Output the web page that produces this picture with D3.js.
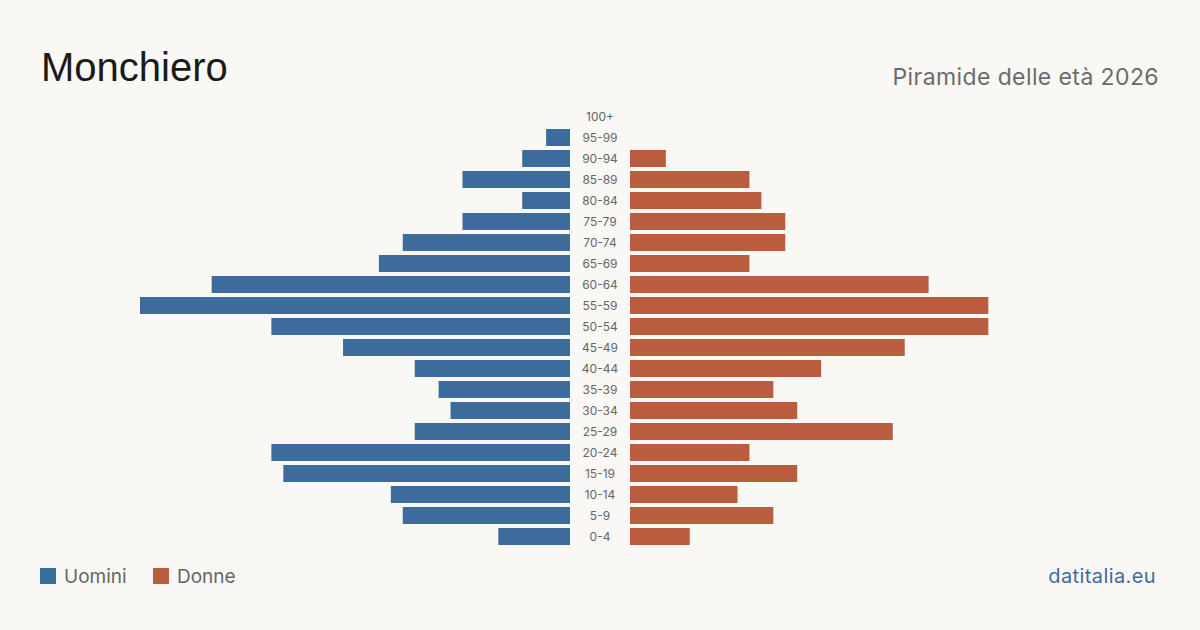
<!DOCTYPE html>
<html><head><meta charset="utf-8">
<script src="https://cdn.jsdelivr.net/npm/d3@7"></script>
<style>
html,body{margin:0;padding:0;background:#f9f8f4;}
svg{display:block;font-family:Inter,"Liberation Sans",sans-serif;}
</style></head>
<body><svg id="c" width="1200" height="630"></svg>
<script>
const ageGroups = ["100+","95-99","90-94","85-89","80-84","75-79","70-74","65-69","60-64","55-59","50-54","45-49","40-44","35-39","30-34","25-29","20-24","15-19","10-14","5-9","0-4"];
const males   = [0,2,4,9,4,9,14,16,30,36,25,19,13,11,10,13,25,24,15,14,6];
const females = [0,0,3,10,11,13,13,10,25,30,30,23,16,12,14,22,10,14,9,12,5];
const legendLabels = ["Uomini","Donne"];
const colors = {m:"#3d6b9c", f:"#b95d3e"};

const svg = d3.select("#c");
svg.append("rect").attr("width",1200).attr("height",630).attr("fill","#f9f8f4");

const y = d3.scaleBand().domain(ageGroups).range([106,547]).paddingInner(4/21).paddingOuter(2/21);
const xm = d3.scaleLinear().domain([0,36]).range([570,140]);
const xf = d3.scaleLinear().domain([0,36]).range([630,1060]);

svg.append("g").selectAll("rect").data(ageGroups).join("rect")
  .attr("x",(d,i)=>xm(males[i])).attr("y",d=>y(d))
  .attr("width",(d,i)=>xm(0)-xm(males[i])).attr("height",y.bandwidth())
  .attr("fill",colors.m);
svg.append("g").selectAll("rect").data(ageGroups).join("rect")
  .attr("x",xf(0)).attr("y",d=>y(d))
  .attr("width",(d,i)=>xf(females[i])-xf(0)).attr("height",y.bandwidth())
  .attr("fill",colors.f);

svg.append("g").selectAll("text").data(ageGroups).join("text")
  .attr("x",600).attr("y",d=>y(d)+y.bandwidth()/2).attr("dy","0.35em")
  .attr("text-anchor","middle").attr("font-size",12).attr("fill","#666")
  .text(d=>d);

svg.append("text").attr("x",41).attr("y",81).attr("font-size",40).attr("font-family","'Liberation Sans',Arial,sans-serif").attr("fill","#1a1a1a").text("Monchiero");
svg.append("text").attr("x",1159).attr("y",85).attr("text-anchor","end").attr("font-size",23).attr("letter-spacing",0.4).attr("fill","#6b6b6b").text("Piramide delle età 2026");

const lg = svg.append("g");
[[40,colors.m,legendLabels[0]],[153,colors.f,legendLabels[1]]].forEach(([x,c,t])=>{
  lg.append("rect").attr("x",x).attr("y",568).attr("width",16).attr("height",16).attr("fill",c);
  lg.append("text").attr("x",x+24).attr("y",583).attr("font-size",19).attr("fill","#666").text(t);
});
svg.append("text").attr("x",1156).attr("y",583).attr("text-anchor","end").attr("font-size",20).attr("letter-spacing",0.4).attr("fill","#3d6b9c").text("datitalia.eu");
</script></body></html>
